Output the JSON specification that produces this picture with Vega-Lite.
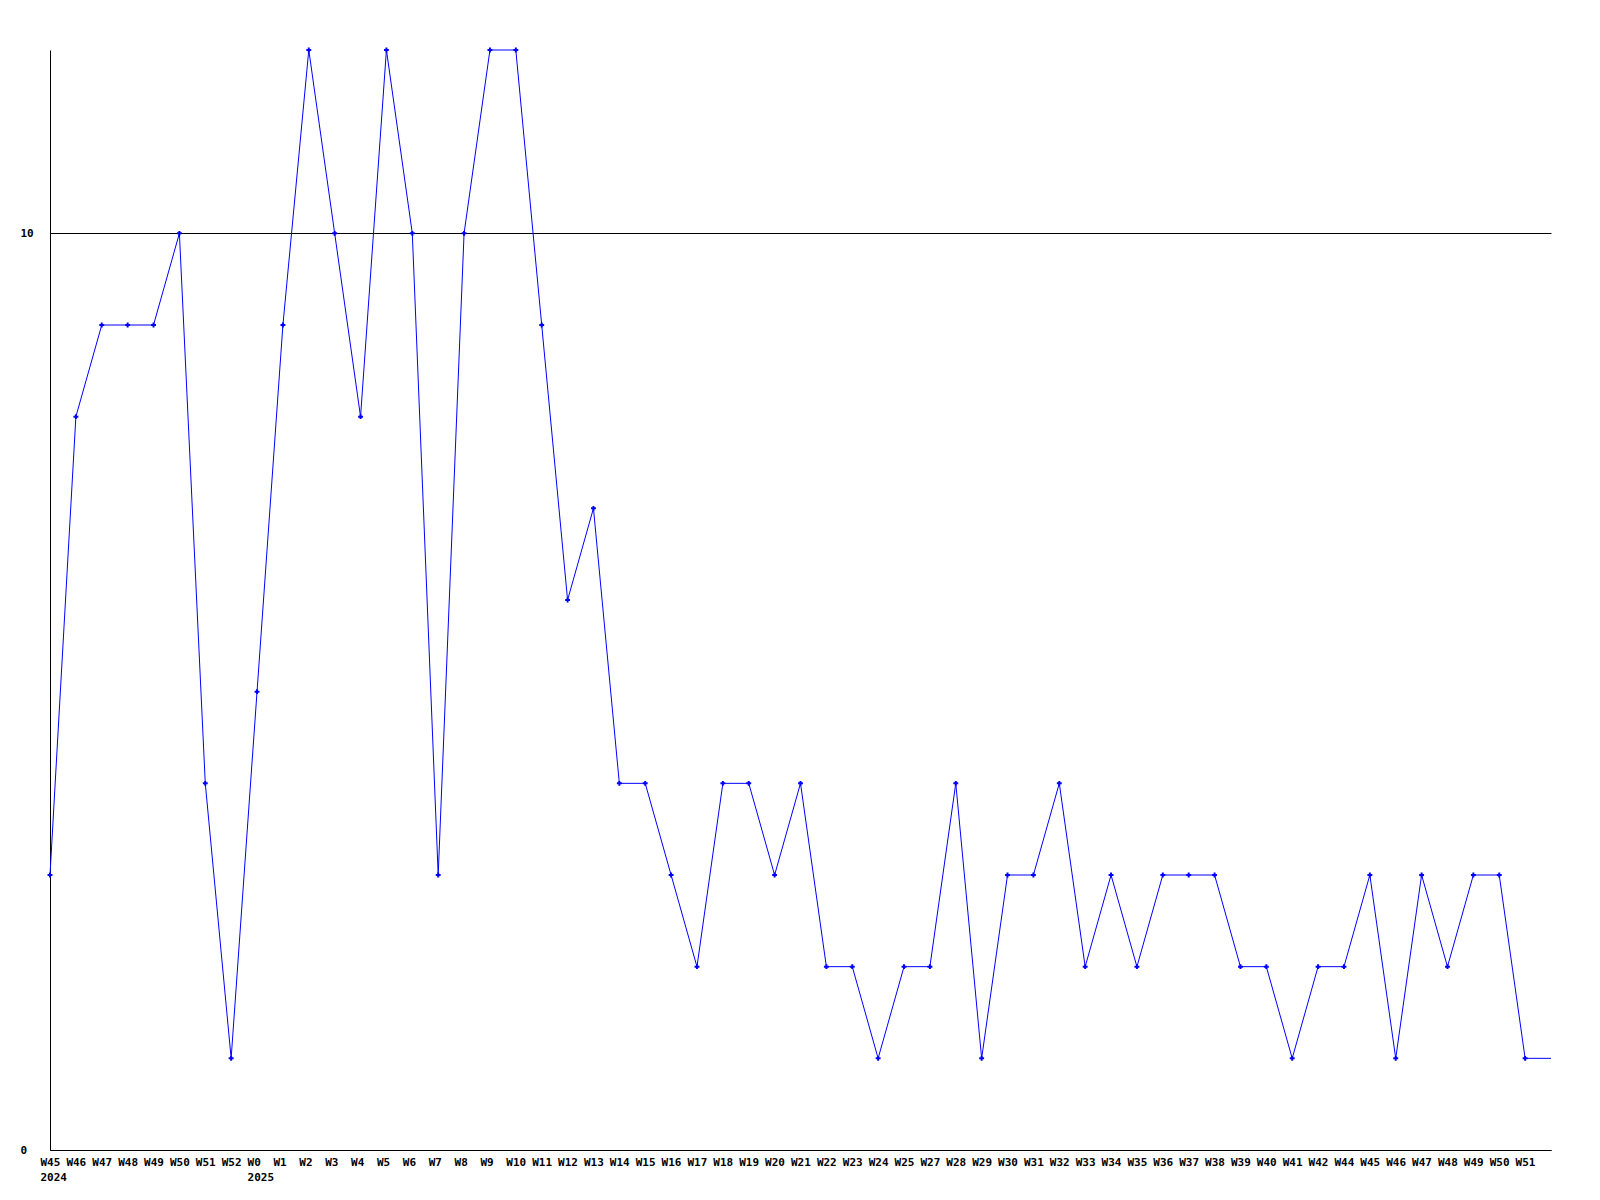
{
  "$schema": "https://vega.github.io/schema/vega-lite/v6.json",
  "width": 1501,
  "height": 1100,
  "autosize": "none",
  "padding": {"left": 50, "top": 50, "right": 49, "bottom": 50},
  "background": "white",
  "config": {"view": {"stroke": null}},
  "data": {"values": [
    {"wk": "2024-W45", "v": 3},
    {"wk": "2024-W46", "v": 8},
    {"wk": "2024-W47", "v": 9},
    {"wk": "2024-W48", "v": 9},
    {"wk": "2024-W49", "v": 9},
    {"wk": "2024-W50", "v": 10},
    {"wk": "2024-W51", "v": 4},
    {"wk": "2024-W52", "v": 1},
    {"wk": "2025-W0", "v": 5},
    {"wk": "2025-W1", "v": 9},
    {"wk": "2025-W2", "v": 12},
    {"wk": "2025-W3", "v": 10},
    {"wk": "2025-W4", "v": 8},
    {"wk": "2025-W5", "v": 12},
    {"wk": "2025-W6", "v": 10},
    {"wk": "2025-W7", "v": 3},
    {"wk": "2025-W8", "v": 10},
    {"wk": "2025-W9", "v": 12},
    {"wk": "2025-W10", "v": 12},
    {"wk": "2025-W11", "v": 9},
    {"wk": "2025-W12", "v": 6},
    {"wk": "2025-W13", "v": 7},
    {"wk": "2025-W14", "v": 4},
    {"wk": "2025-W15", "v": 4},
    {"wk": "2025-W16", "v": 3},
    {"wk": "2025-W17", "v": 2},
    {"wk": "2025-W18", "v": 4},
    {"wk": "2025-W19", "v": 4},
    {"wk": "2025-W20", "v": 3},
    {"wk": "2025-W21", "v": 4},
    {"wk": "2025-W22", "v": 2},
    {"wk": "2025-W23", "v": 2},
    {"wk": "2025-W24", "v": 1},
    {"wk": "2025-W25", "v": 2},
    {"wk": "2025-W27", "v": 2},
    {"wk": "2025-W28", "v": 4},
    {"wk": "2025-W29", "v": 1},
    {"wk": "2025-W30", "v": 3},
    {"wk": "2025-W31", "v": 3},
    {"wk": "2025-W32", "v": 4},
    {"wk": "2025-W33", "v": 2},
    {"wk": "2025-W34", "v": 3},
    {"wk": "2025-W35", "v": 2},
    {"wk": "2025-W36", "v": 3},
    {"wk": "2025-W37", "v": 3},
    {"wk": "2025-W38", "v": 3},
    {"wk": "2025-W39", "v": 2},
    {"wk": "2025-W40", "v": 2},
    {"wk": "2025-W41", "v": 1},
    {"wk": "2025-W42", "v": 2},
    {"wk": "2025-W44", "v": 2},
    {"wk": "2025-W45", "v": 3},
    {"wk": "2025-W46", "v": 1},
    {"wk": "2025-W47", "v": 3},
    {"wk": "2025-W48", "v": 2},
    {"wk": "2025-W49", "v": 3},
    {"wk": "2025-W50", "v": 3},
    {"wk": "2025-W51", "v": 1},
    {"wk": "2025-W52", "v": 1}
  ]},
  "encoding": {
    "x": {
      "field": "wk", "type": "ordinal", "sort": null,
      "scale": {"type": "point", "padding": 0},
      "axis": {
        "title": null, "ticks": false, "grid": false,
        "domainColor": "black", "domainWidth": 1,
        "labelAngle": 0, "labelAlign": "left", "labelOffset": -10,
        "labelBaseline": "top", "labelPadding": 6,
        "labelFont": "DejaVu Sans Mono", "labelFontWeight": "bold",
        "labelFontSize": 11, "labelColor": "black", "labelLineHeight": 15,
        "labelOverlap": false, "labelBound": false, "labelFlush": false,
        "labelExpr": "datum.value == '2025-W52' ? '' : (datum.value == '2024-W45' || datum.value == '2025-W0') ? [split(datum.value, '-')[1], split(datum.value, '-')[0]] : split(datum.value, '-')[1]"
      }
    },
    "y": {
      "field": "v", "type": "quantitative",
      "scale": {"domain": [0, 12], "nice": false, "zero": true},
      "axis": {
        "title": null, "values": [0, 10], "ticks": false,
        "grid": true, "gridColor": "black", "gridOpacity": 1, "gridWidth": 1,
        "domainColor": "black", "domainWidth": 1,
        "labelAlign": "left", "labelPadding": 30, "labelBaseline": "middle",
        "labelFont": "DejaVu Sans Mono", "labelFontWeight": "bold",
        "labelFontSize": 11, "labelColor": "black"
      }
    }
  },
  "layer": [
    {"mark": {"type": "line", "color": "#0000ff", "strokeWidth": 1}},
    {
      "transform": [{"filter": "datum.wk != '2025-W52'"}],
      "mark": {"type": "point", "shape": "cross", "filled": true, "color": "#0000ff", "size": 24, "opacity": 1}
    }
  ]
}
